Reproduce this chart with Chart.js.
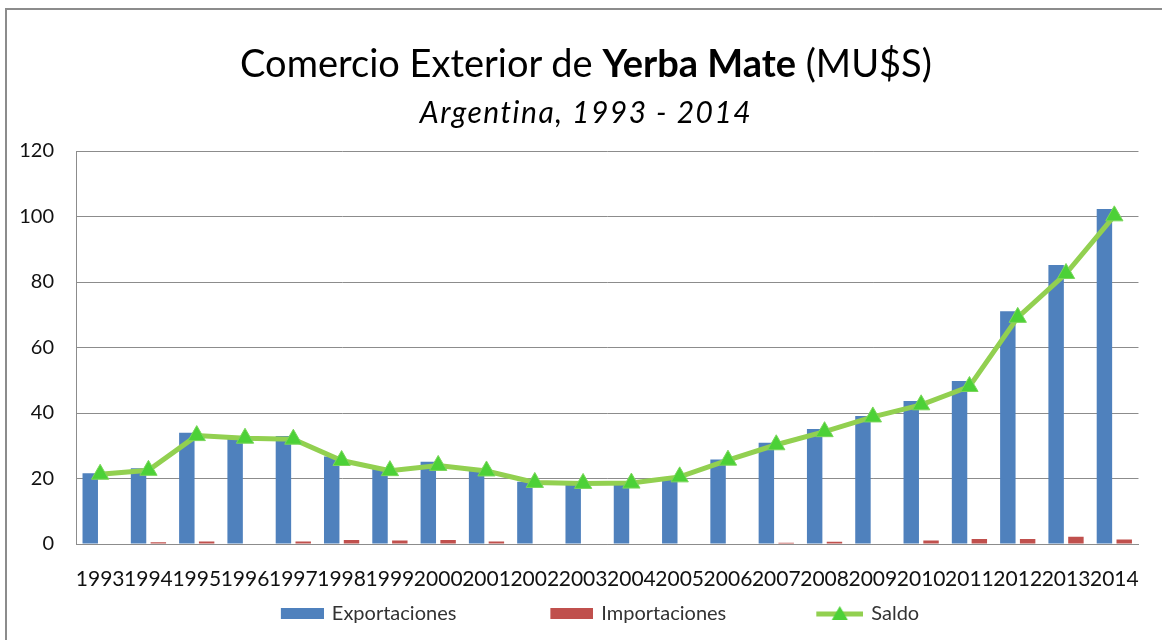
<!DOCTYPE html>
<html>
<head>
<meta charset="utf-8">
<script src="https://cdn.jsdelivr.net/npm/chart.js@4.4.1/dist/chart.umd.min.js"></script>
<style>
  html, body { margin: 0; padding: 0; background: #fff; overflow: hidden; }
  #frame { position: absolute; left: 5px; top: 8px; width: 1200px; height: 700px; border: 2px solid #8c8c8c; }
  #wrap { position: absolute; left: 0; top: 0; width: 1162px; height: 640px; }
  .ttl { position: absolute; left: 0; width: 1172px; text-align: center; font-family: Lato, sans-serif; color: #000; white-space: nowrap; }
  #t1 { top: 43px; font-size: 38px; line-height: 38px; }
  #t2 { top: 96px; font-size: 30px; line-height: 30px; font-style: italic; letter-spacing: 1.5px; }
</style>
</head>
<body>
<div id="frame"></div>
<div id="wrap"><canvas id="chart" width="1162" height="640"></canvas></div>
<div class="ttl" id="t1">Comercio Exterior de <b>Yerba Mate</b> (MU$S)</div>
<div class="ttl" id="t2">Argentina, 1993 - 2014</div>
<script>
const years = ['1993','1994','1995','1996','1997','1998','1999','2000','2001','2002','2003',
  '2004','2005','2006','2007','2008','2009','2010','2011','2012','2013','2014'];
const exportaciones = [21.6, 23.1, 34.0, 32.3, 33.0, 26.7, 23.2, 25.1, 23.0, 19.0, 18.3,
  18.4, 20.3, 25.8, 30.9, 35.1, 39.1, 43.7, 49.8, 71.1, 85.2, 102.3];
const importaciones = [0, 0.5, 0.8, 0, 0.8, 1.2, 1.1, 1.2, 0.8, 0, 0,
  0, 0, 0, 0.4, 0.7, 0, 1.1, 1.5, 1.5, 2.2, 1.4];
const saldo = [21.3, 22.5, 33.1, 32.3, 32.0, 25.5, 22.4, 24.0, 22.3, 18.8, 18.5,
  18.6, 20.5, 25.6, 30.3, 34.3, 38.8, 42.5, 48.1, 69.2, 82.6, 100.2];
const yTicks = [0, 20, 40, 60, 80, 100, 120];

const azul = '#4F81BD';
const rojo = '#C0504D';
const verde = '#92D050';
const verdeMarca = '#4CD137';

// legend swatches: transparent lead-in so the items sit apart like the original
const BOX = 125;
function swatch(kind, color) {
  const c = document.createElement('canvas');
  c.width = BOX + 4; c.height = 20;
  const g = c.getContext('2d');
  if (kind === 'bar') {
    g.fillStyle = color;
    g.fillRect(c.width - 43, 4, 43, 11);
  } else {
    g.strokeStyle = verde; g.lineWidth = 5;
    g.beginPath(); g.moveTo(c.width - 47, 10); g.lineTo(c.width, 10); g.stroke();
    const cx = c.width - 23.5;
    g.fillStyle = verdeMarca;
    g.beginPath(); g.moveTo(cx, 2); g.lineTo(cx + 8, 16); g.lineTo(cx - 8, 16); g.closePath(); g.fill();
  }
  return c;
}

// negative left padding only to move the centred legend row left, axis width compensates
const PAD_LEFT = -32;

new Chart(document.getElementById('chart'), {
  data: {
    labels: years,
    datasets: [
      { type: 'line', label: 'Saldo', data: saldo, order: 0,
        borderColor: verde, borderWidth: 5, tension: 0,
        pointStyle: 'triangle', pointRadius: 10, pointBackgroundColor: verdeMarca,
        pointBorderColor: '#7AD65A', pointBorderWidth: 1 },
      { type: 'bar', label: 'Exportaciones', data: exportaciones, order: 1,
        backgroundColor: azul, categoryPercentage: 0.82, barPercentage: 0.78 },
      { type: 'bar', label: 'Importaciones', data: importaciones, order: 1,
        backgroundColor: rojo, categoryPercentage: 0.82, barPercentage: 0.78 }
    ]
  },
  options: {
    responsive: false,
    animation: false,
    layout: { padding: { top: 151, left: PAD_LEFT, right: 14, bottom: 6 } },
    plugins: {
      title: { display: false },
      tooltip: { enabled: false },
      legend: {
        position: 'bottom',
        labels: {
          usePointStyle: true,
          pointStyleWidth: BOX,
          padding: 10,
          color: '#333',
          font: { family: 'Lato', size: 20 },
          generateLabels: (chart) => {
            const ds = chart.data.datasets;
            return [
              { text: ds[1].label, pointStyle: swatch('bar', azul), datasetIndex: 1, fontColor: '#333', lineWidth: 0 },
              { text: ds[2].label, pointStyle: swatch('bar', rojo), datasetIndex: 2, fontColor: '#333', lineWidth: 0 },
              { text: ds[0].label, pointStyle: swatch('line'), datasetIndex: 0, fontColor: '#333', lineWidth: 0 }
            ];
          }
        }
      }
    },
    scales: {
      x: {
        grid: { display: false, drawTicks: false },
        border: { display: true, color: '#8c8c8c', width: 1 },
        ticks: { color: '#111', font: { family: 'Lato', size: 21 }, padding: 23, maxRotation: 0, autoSkip: false },
        afterFit: (s) => { s.height = 50; }
      },
      y: {
        min: 0, max: 120,
        afterBuildTicks: (s) => { s.ticks = yTicks.map(v => ({ value: v })); },
        grid: { color: '#8c8c8c', lineWidth: 1, drawTicks: false },
        border: { display: true, color: '#8c8c8c', width: 1 },
        ticks: { color: '#111', font: { family: 'Lato', size: 20 }, padding: 22 },
        afterFit: (s) => { s.width = 76 - PAD_LEFT; }
      }
    }
  }
});
</script>
</body>
</html>
